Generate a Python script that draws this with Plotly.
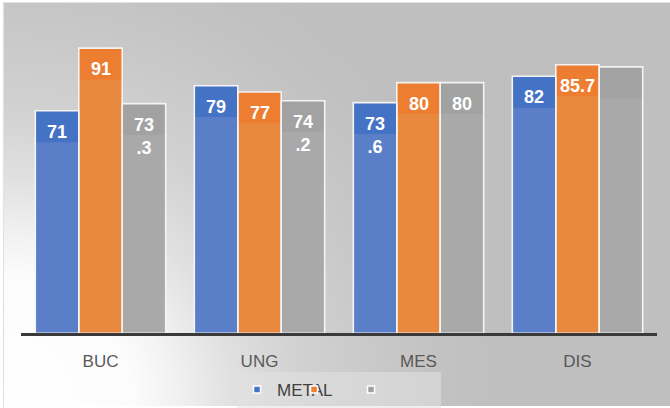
import plotly.graph_objects as go

# ---------------- data ----------------
categories = ["BUC", "UNG", "MES", "DIS"]
series_names = ["METAL", "", ""]
blue_vals = [71, 79, 73.6, 82]
orange_vals = [91, 77, 80, 85.7]
gray_vals = [73.3, 74.2, 80, 85]
blue_labels = ["71", "79", "73<br>.6", "82"]
orange_labels = ["91", "77", "80", "85.7"]
gray_labels = ["73<br>.3", "74<br>.2", "80", ""]

# ---------------- styles ----------------
W, H = 670, 408
dark_colors = ["#4472C4", "#ED7D31", "#A2A2A2"]
light_colors = ["#5A7EC7", "#E8893F", "#A9A9A9"]
all_vals = [blue_vals, orange_vals, gray_vals]
all_labels = [blue_labels, orange_labels, gray_labels]
BARGAP = 0.18
BAND = 10  # depth of the darker top band (data units)
FONT = "Liberation Sans, Arial, sans-serif"

fig = go.Figure()

# ---- background (pixel-space subplot x/y) ----
L_IN, T_IN = 4, 3
fig.add_trace(go.Scatter(
    x=[L_IN, W, W, L_IN, L_IN], y=[0, 0, H - T_IN, H - T_IN, 0],
    mode="lines", fill="toself", fillcolor="#BFBFBF",
    line=dict(width=0), hoverinfo="skip", showlegend=False,
    xaxis="x", yaxis="y"))
R = 500
fig.add_trace(go.Scatter(
    x=[L_IN - R, L_IN + R, L_IN + R, L_IN - R, L_IN - R],
    y=[-R, -R, R, R, -R],
    mode="lines", fill="toself",
    fillgradient=dict(type="radial", colorscale=[
        [0, "#FFFFFF"], [0.26, "#FCFCFC"], [0.34, "#F2F2F2"], [0.46, "#E0E0E0"],
        [0.6, "#D1D1D1"], [0.76, "#C8C8C8"], [0.88, "#C2C2C2"], [1, "#BFBFBF"]]),
    line=dict(width=0), hoverinfo="skip", showlegend=False,
    xaxis="x", yaxis="y"))

# ---- bars ----
for i in range(3):
    fig.add_trace(go.Bar(
        x=categories, y=all_vals[i], offsetgroup=str(i),
        marker=dict(color=light_colors[i], line=dict(width=0)),
        hoverinfo="skip", showlegend=False, xaxis="x2", yaxis="y2"))
for i in range(3):
    fig.add_trace(go.Bar(
        x=categories, y=[BAND] * len(categories),
        base=[v - BAND for v in all_vals[i]], offsetgroup=str(i),
        marker=dict(color=dark_colors[i], line=dict(width=0)),
        hoverinfo="skip", showlegend=False, xaxis="x2", yaxis="y2"))
for i in range(3):
    fig.add_trace(go.Bar(
        x=categories, y=all_vals[i], offsetgroup=str(i),
        marker=dict(color="rgba(0,0,0,0)", line=dict(color="#F4F4F4", width=1.6)),
        hoverinfo="skip", showlegend=False, xaxis="x2", yaxis="y2"))

# ---- legend entries ----
for i in range(3):
    fig.add_trace(go.Scatter(
        x=[None], y=[None], mode="markers", name=series_names[i],
        marker=dict(symbol="square", size=7, color=dark_colors[i],
                    line=dict(color="white", width=1.5)),
        legendwidth=45 if i == 2 else 12,
        xaxis="x2", yaxis="y2"))

# ---- value labels ----
bw = (1 - BARGAP) / 3
annotations = []
for i in range(3):
    for j, cat in enumerate(categories):
        if not all_labels[i][j]:
            continue
        annotations.append(dict(
            x=j + (i - 1) * bw, y=all_vals[i][j], xref="x2", yref="y2",
            text=all_labels[i][j], showarrow=False, yanchor="top", yshift=-9,
            font=dict(family=FONT, size=18, color="white", weight="bold")))

fig.update_layout(
    width=W, height=H, margin=dict(l=0, r=0, t=0, b=0),
    paper_bgcolor="white", plot_bgcolor="rgba(0,0,0,0)",
    barmode="group", bargap=BARGAP, bargroupgap=0,
    font=dict(family=FONT, color="#404040"),
    xaxis=dict(domain=[L_IN / W, 1], range=[L_IN, W], visible=False, fixedrange=True),
    yaxis=dict(domain=[0, (H - T_IN) / H], range=[0, H - T_IN], visible=False, fixedrange=True),
    xaxis2=dict(domain=[21 / W, 657 / W], anchor="y2", showline=True,
                linecolor="#3A3A3A", linewidth=3, showgrid=False, ticks="",
                ticklabelstandoff=10,
                tickfont=dict(family=FONT, size=17, color="#595959")),
    yaxis2=dict(domain=[73 / H, 388 / H], anchor="x2", range=[0, 100],
                visible=False, showgrid=False),
    legend=dict(orientation="h", x=0.506, xanchor="center", y=34 / H, yanchor="top",
                bgcolor="rgba(225,225,225,0.55)", borderwidth=0,
                font=dict(family=FONT, size=17, color="#404040"),
                entrywidthmode="pixels"),
    annotations=annotations,
    shapes=[dict(type="rect", xref="paper", yref="paper",
                 x0=(L_IN - 0.5) / W, x1=1.01, y0=-0.01, y1=(H - T_IN + 0.5) / H,
                 line=dict(color="#E2E2E2", width=1.2), fillcolor="rgba(0,0,0,0)",
                 layer="above")],
)

fig.write_html("out.html")
